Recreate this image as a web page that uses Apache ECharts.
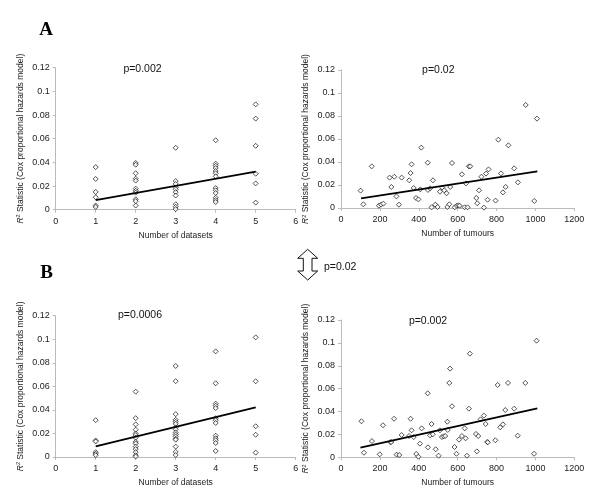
<!DOCTYPE html>
<html>
<head>
<meta charset="utf-8">
<script src="https://cdn.jsdelivr.net/npm/echarts@6/dist/echarts.min.js"></script>
<style>html,body{margin:0;padding:0;background:#fff}#c{width:600px;height:502px}</style>
</head>
<body>
<div id="c"></div>
<script>
// ---- data ----
const datasetCounts = [1, 2, 3, 4, 5];
const datasetTicks = [0, 1, 2, 3, 4, 5, 6];
const tumourTicks = [0, 200, 400, 600, 800, 1000, 1200];
const r2Ticks = [0, 0.02, 0.04, 0.06, 0.08, 0.1, 0.12];

// Panel A, left: R2 by number of datasets
const aLeftR2 = [
  [0.036, 0.026, 0.015, 0.0105, 0.0035, 0.0023],
  [0.0395, 0.038, 0.0308, 0.0262, 0.0246, 0.0178, 0.016, 0.0144, 0.0088, 0.0072, 0.0035],
  [0.0523, 0.0242, 0.0218, 0.0188, 0.0172, 0.0148, 0.012, 0.0046, 0.0025, 0.0005],
  [0.0587, 0.0389, 0.0372, 0.0352, 0.0327, 0.0308, 0.0282, 0.0183, 0.0164, 0.0141, 0.0101, 0.0082, 0.0065],
  [0.089, 0.077, 0.054, 0.0304, 0.0222, 0.006]
];
const aLeftTrend = [[1, 0.008], [5, 0.0322]];

// Panel A, right: R2 by number of tumours
const aRightTumours = [101,115,158,195,206,218,250,259,274,285,298,312,351,358,363,374,386,398,408,413,446,447,458,466,473,485,497,509,521,531,543,547,557,562,571,585,595,605,610,622,636,643,651,658,665,696,701,710,722,735,746,754,759,795,809,823,833,847,861,891,910,950,994,1008];
const aRightR2 = [0.0151,0.0032,0.0362,0.002,0.0029,0.0038,0.0264,0.0183,0.0272,0.0101,0.0029,0.0264,0.0241,0.0304,0.038,0.0174,0.0087,0.0075,0.0162,0.0525,0.0394,0.0157,0.0171,0.0006,0.0241,0.0029,0.0009,0.0142,0.0177,0.0154,0.0128,0.0009,0.0032,0.0183,0.0391,0.0006,0.002,0.0023,0.002,0.0293,0.0006,0.0214,0.0006,0.0362,0.0362,0.0087,0.0041,0.0154,0.0272,0.0003,0.0299,0.0072,0.0336,0.0064,0.0594,0.0301,0.0136,0.0183,0.0545,0.0345,0.0223,0.0896,0.0061,0.0777];
const aRightTrend = [[103, 0.0084], [1010, 0.0319]];

// Panel B, left
const bLeftR2 = [
  [0.0313, 0.014, 0.0132, 0.0041, 0.0027, 0.0015],
  [0.0555, 0.033, 0.0277, 0.0232, 0.02, 0.0186, 0.0164, 0.0128, 0.0115, 0.0088, 0.0067, 0.0041, 0.0015, 0.0004],
  [0.0773, 0.0644, 0.0364, 0.0316, 0.0299, 0.0282, 0.0251, 0.0235, 0.0208, 0.0191, 0.0174, 0.0155, 0.0147, 0.0088, 0.0043, 0.0017],
  [0.0897, 0.0626, 0.0453, 0.0436, 0.0416, 0.0329, 0.0312, 0.0289, 0.0181, 0.0159, 0.0142, 0.0119, 0.0051],
  [0.1016, 0.0643, 0.0261, 0.0189, 0.0037]
];
const bLeftTrend = [[1, 0.009], [5, 0.0422]];

// Panel B, right
const bRightTumours = [105,118,159,199,216,255,258,273,286,300,312,350,358,363,374,387,398,406,415,446,447,458,466,472,487,502,509,519,528,536,547,549,557,561,571,584,594,607,622,636,641,648,658,663,694,699,706,718,735,744,752,755,794,806,819,833,845,859,891,909,948,993,1006];
const bRightR2 = [0.0315,0.004,0.0142,0.0026,0.028,0.0131,0.0134,0.0337,0.0023,0.002,0.0195,0.0186,0.0337,0.0236,0.0177,0.0029,0.0005,0.0119,0.0253,0.0559,0.0087,0.0192,0.0291,0.0201,0.007,0.0014,0.0236,0.0177,0.0183,0.0186,0.0311,0.0239,0.065,0.0775,0.0446,0.009,0.0031,0.0154,0.0186,0.0253,0.0166,0.0014,0.0425,0.0906,0.0204,0.0052,0.0186,0.0332,0.0364,0.0291,0.0134,0.0131,0.0149,0.0632,0.0262,0.0288,0.0413,0.065,0.0425,0.0189,0.065,0.0031,0.1019];
const bRightTrend = [[100, 0.0085], [1010, 0.0428]];

const pLabels = ['p=0.002', 'p=0.02', 'p=0.0006', 'p=0.002'];
const betweenP = 'p=0.02';
const xNames = ['Number of datasets', 'Number of tumours'];

// ---- chart ----
const SANS = 'Liberation Sans, Arial, sans-serif';
const grids = [
  {left: 55.7, top: 67.7, width: 240, height: 142},
  {left: 341, top: 70, width: 233.3, height: 138},
  {left: 55.7, top: 315.7, width: 240, height: 141.3},
  {left: 341, top: 320, width: 233.3, height: 137.3}
];
function xAx(i, isTum) {
  const t = isTum ? tumourTicks : datasetTicks;
  return {
    gridIndex: i, type: 'value', min: t[0], max: t[t.length - 1], interval: t[1] - t[0],
    name: isTum ? xNames[1] : xNames[0], nameLocation: 'middle', nameGap: 21,
    nameTextStyle: {fontFamily: SANS, fontSize: 8.5, color: '#222'},
    axisLine: {lineStyle: {color: '#bbb', width: 1}},
    axisTick: {show: true, length: 3, lineStyle: {color: '#bbb'}},
    axisLabel: {fontFamily: SANS, fontSize: 9, color: '#222', margin: 7, formatter: v => String(v)},
    splitLine: {show: false}
  };
}
function yAx(i) {
  return {
    gridIndex: i, type: 'value', min: r2Ticks[0], max: r2Ticks[r2Ticks.length - 1], interval: r2Ticks[1] - r2Ticks[0],
    name: '{i|R}{s|2}{n| Statistic (Cox proportional hazards model)}',
    nameLocation: 'middle', nameRotate: 90, nameGap: 30,
    nameTextStyle: {
      fontFamily: SANS, fontSize: 8.5, color: '#222',
      rich: {
        i: {fontFamily: SANS, fontSize: 8.5, fontStyle: 'italic', color: '#222'},
        s: {fontFamily: SANS, fontSize: 5.5, color: '#222', verticalAlign: 'top', padding: [0, 0, 4, 0]},
        n: {fontFamily: SANS, fontSize: 8.5, color: '#222'}
      }
    },
    axisLine: {show: true, lineStyle: {color: '#bbb', width: 1}},
    axisTick: {show: true, length: 3, lineStyle: {color: '#bbb'}},
    axisLabel: {fontFamily: SANS, fontSize: 9, color: '#222', margin: 6},
    splitLine: {show: false}
  };
}
function groupPoints(groups) {
  const pts = [];
  groups.forEach((g, k) => g.forEach(v => pts.push([datasetCounts[k], v])));
  return pts;
}
function zipPoints(xs, ys) { return xs.map((x, k) => [x, ys[k]]); }
function scatter(i, data) {
  return {type: 'scatter', xAxisIndex: i, yAxisIndex: i, data: data, symbol: 'diamond', symbolSize: 5,
    itemStyle: {color: '#fff', borderColor: '#111', borderWidth: 0.9}, silent: true, z: 3};
}
function trend(i, data) {
  return {type: 'line', xAxisIndex: i, yAxisIndex: i, data: data, symbol: 'none',
    lineStyle: {color: '#000', width: 1.8}, silent: true, z: 4};
}

const chart = echarts.init(document.getElementById('c'), null, {renderer: 'canvas'});
const pPos = [[142.5, 69.5], [438.3, 70], [140, 315.5], [428, 321.5]];
const graphics = pLabels.map((t, k) => ({
  type: 'text', x: pPos[k][0], y: pPos[k][1],
  style: {text: t, fontFamily: SANS, fontSize: 10.5, fill: '#111', align: 'center', verticalAlign: 'middle'}
}));
graphics.push(
  {type: 'text', x: 46, y: 30, style: {text: 'A', fontFamily: 'Liberation Serif, Times New Roman, serif', fontWeight: 'bold', fontSize: 19, fill: '#000', align: 'center', verticalAlign: 'middle'}},
  {type: 'text', x: 46.5, y: 273.5, style: {text: 'B', fontFamily: 'Liberation Serif, Times New Roman, serif', fontWeight: 'bold', fontSize: 19, fill: '#000', align: 'center', verticalAlign: 'middle'}},
  {type: 'polygon', shape: {points: [[307.7,249.3],[317.7,258.3],[312,258.3],[312,271],[317.7,271],[307.7,280],[297.7,271],[303.3,271],[303.3,258.3],[297.7,258.3]]},
    style: {fill: '#fff', stroke: '#111', lineWidth: 1}},
  {type: 'text', x: 324, y: 266.7, style: {text: betweenP, fontFamily: SANS, fontSize: 10.5, fill: '#111', align: 'left', verticalAlign: 'middle'}}
);

chart.setOption({
  animation: false,
  backgroundColor: '#fff',
  grid: grids,
  xAxis: [xAx(0, false), xAx(1, true), xAx(2, false), xAx(3, true)],
  yAxis: [yAx(0), yAx(1), yAx(2), yAx(3)],
  series: [
    scatter(0, groupPoints(aLeftR2)), trend(0, aLeftTrend),
    scatter(1, zipPoints(aRightTumours, aRightR2)), trend(1, aRightTrend),
    scatter(2, groupPoints(bLeftR2)), trend(2, bLeftTrend),
    scatter(3, zipPoints(bRightTumours, bRightR2)), trend(3, bRightTrend)
  ],
  graphic: graphics
});
</script>
</body>
</html>
